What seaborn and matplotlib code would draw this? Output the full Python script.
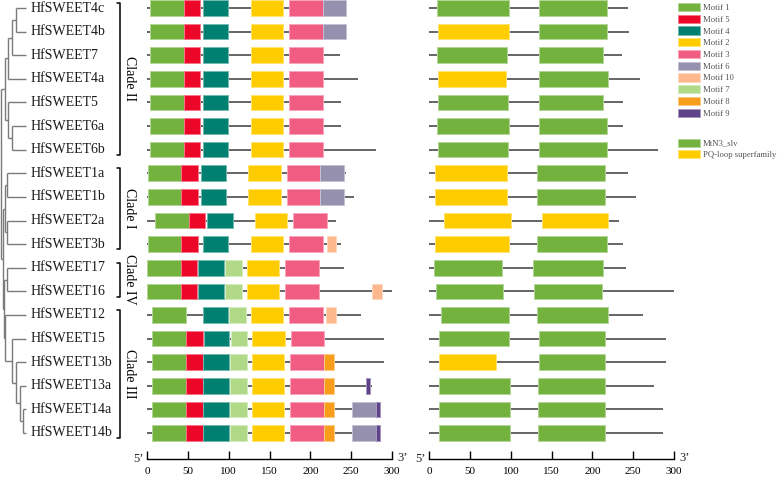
import numpy as np
import pandas as pd
import matplotlib
matplotlib.use("Agg")
import matplotlib.pyplot as plt
import seaborn as sns
from matplotlib.patches import Patch
from matplotlib.colors import to_rgb

nan = np.nan
genes = ["HfSWEET4c", "HfSWEET4b", "HfSWEET7", "HfSWEET4a", "HfSWEET5", "HfSWEET6a",
         "HfSWEET6b", "HfSWEET1a", "HfSWEET1b", "HfSWEET2a", "HfSWEET3b", "HfSWEET17",
         "HfSWEET16", "HfSWEET12", "HfSWEET15", "HfSWEET13b", "HfSWEET13a",
         "HfSWEET14a", "HfSWEET14b"]
protein_len = [244, 245, 236, 258, 237, 237, 280, 244, 254, 232, 237, 241, 300, 262,
               290, 290, 275, 287, 287]

# motif start positions (aa) per gene, nan = absent
motif1_start = [4, 4, 4, 4, 4, 4, 4, 1, 1, 10, 1, 0.5, 0.5, 6.5, 6.5, 6.5, 6.5, 6.5, 6.5]
motif5_start = [45, 45, 45, 45, 45, 45, 45, 42, 42, 51, 42, 41.5, 41.5, nan, 48, 48, 48, 48, 48]
motif4_start = [68, 68, 68, 68, 68, 68, 68, 66, 66, 74, 68, 63, 63, 68, 70, 69, 69, 69, 69]
motif2_start = [127, 127, 127, 127, 127, 127, 127, 124, 124, 132, 127, 122, 122, 127, 129, 128, 128, 128, 128]
motif3_start = [174, 174, 174, 174, 174, 174, 174, 171, 171, 179, 174, 169, 169, 174, 176, 175.5, 175.5, 175.5, 175.5]
motif6_start = [215, 215, nan, nan, nan, nan, nan, 212, 212, nan, nan, nan, nan, nan, nan, nan, nan, 251, 251]
motif10_start = [nan, nan, nan, nan, nan, nan, nan, nan, nan, nan, 220, nan, 276, 219, nan, nan, nan, nan, nan]
motif7_start = [nan, nan, nan, nan, nan, nan, nan, nan, nan, nan, nan, 96, 96, 101, 103, 102, 102, 102, 102]
motif8_start = [nan, nan, nan, nan, nan, nan, nan, nan, nan, nan, nan, nan, nan, nan, nan, 217, 217, 217, 217]
motif9_start = [nan, nan, nan, nan, nan, nan, nan, nan, nan, nan, nan, nan, nan, nan, nan, nan, 268.5, 280.5, 280.5]

motif_names = ["Motif 1", "Motif 5", "Motif 4", "Motif 2", "Motif 3", "Motif 6",
               "Motif 10", "Motif 7", "Motif 8", "Motif 9"]
motif_width = [41, 20, 31, 40, 41, 29, 12, 20, 12, 5]
motif_colors = ["#74B23F", "#EC0628", "#008070", "#FFCC00", "#F05C82", "#9490AE",
                "#FDB98D", "#B0DA88", "#F99E1C", "#5E4389"]
motif_starts = [motif1_start, motif5_start, motif4_start, motif2_start, motif3_start,
                motif6_start, motif10_start, motif7_start, motif8_start, motif9_start]

# conserved domains
dom1_start = [10, 11, 10, 11, 11, 9, 11, 7, 7, 18, 7, 6, 8, 14, 12, 12, 12, 12, 12]
dom1_end = [98, 98, 95, 94, 96, 98, 96, 95, 95, 100, 98, 89, 90, 98, 98, 82, 99, 99, 99]
dom1_type = ["M", "P", "M", "P", "M", "M", "M", "P", "P", "P", "P", "M", "M", "M", "M", "P", "M", "M", "M"]
dom2_start = [134, 134, 134, 135, 135, 134, 134, 132, 132, 138.5, 132, 127.5, 128.5, 132, 135, 135, 133, 133, 133]
dom2_end = [218, 218, 213, 219, 213, 218, 218, 215, 215, 219, 218, 212.5, 211.5, 219, 215, 215, 215, 215, 215]
dom2_type = ["M", "M", "M", "M", "M", "M", "M", "M", "M", "P", "M", "M", "M", "M", "M", "M", "M", "M", "M"]
domain_names = {"M": "MtN3_slv", "P": "PQ-loop superfamily"}
domain_colors = {"M": "#74B23F", "P": "#FFCC00"}

clades = [("Clade II", 0, 6), ("Clade I", 7, 10), ("Clade IV", 11, 12), ("Clade III", 13, 18)]

# tree: (child_a, child_b, node_x); leaves are gene indices, nodes named
tree_nodes = {
    "n1": (0, 1, 16), "n2": ("n1", 2, 12), "n3": ("n2", 3, 7.5),
    "n4": (5, 6, 12), "n5": (4, "n4", 7.5), "n6": ("n3", "n5", 4.5),
    "n7": (7, 8, 7), "n8": (9, 10, 7), "n9": ("n7", "n8", 5),
    "n10": (11, 12, 7),
    "n11": (17, 18, 23), "n12": (16, "n11", 19.5), "n13": (15, "n12", 16),
    "n14": (14, "n13", 12), "n15": (13, "n14", 5), "n16": ("n10", "n15", 4),
    "n17": ("n9", "n16", 3), "root": ("n6", "n17", 1),
}
leaf_x = 26

# ---------------------------------------------------------------------------
sns.set_theme(style="white")
plt.rcParams["font.family"] = ["Liberation Serif", "DejaVu Serif"]

W, H = 777, 478
fig = plt.figure(figsize=(W / 100, H / 100), dpi=100)

row_px = (433 - 8) / 18
ytop = -8 / row_px
ybot = 18 + (459 - 433) / row_px
ax_bottom = (H - 459) / H
ax_height = 459 / H

ax_tree = fig.add_axes([0, ax_bottom, 145 / W, ax_height])
ax_m = fig.add_axes([147 / W, ax_bottom, 245 / W, ax_height])
ax_d = fig.add_axes([429.3 / W, ax_bottom, 244.7 / W, ax_height])

rows = np.arange(len(genes))
bar_h = 0.66
line_col = "#3c3c3c"


def lighter(c, f=0.45):
    r, g, b = to_rgb(c)
    return (r + (1 - r) * f, g + (1 - g) * f, b + (1 - b) * f)


# motif panel
df_m = pd.DataFrame({"gene": genes, "row": rows, "length": protein_len})
ax_m.hlines(df_m["row"], 0, df_m["length"], color=line_col, lw=1.1, zorder=1)
for starts, w, col in zip(motif_starts, motif_width, motif_colors):
    s = np.array(starts, dtype=float)
    ok = ~np.isnan(s)
    ax_m.barh(rows[ok], w, left=s[ok], height=bar_h, color=col,
              edgecolor=lighter(col), linewidth=0.7, zorder=2)

# domain panel
ax_d.hlines(df_m["row"], 0, df_m["length"], color=line_col, lw=1.1, zorder=1)
for st, en, ty in ((dom1_start, dom1_end, dom1_type), (dom2_start, dom2_end, dom2_type)):
    st = np.array(st, float)
    en = np.array(en, float)
    cols = [domain_colors[t] for t in ty]
    ax_d.barh(rows, en - st, left=st, height=bar_h, color=cols,
              edgecolor=[lighter(c) for c in cols], linewidth=0.7, zorder=2)

for ax in (ax_m, ax_d):
    ax.set_xlim(0, 300)
    ax.set_ylim(ybot, ytop)
    ax.set_facecolor("none")
    sns.despine(ax=ax, left=True, top=True, right=True)
    ax.spines["bottom"].set_color("black")
    ax.spines["bottom"].set_linewidth(1.0)
    ax.set_xticks([0, 50, 100, 150, 200, 250, 300])
    ax.set_yticks([])
    ax.tick_params(axis="x", direction="in", length=6, width=1.0, color="black",
                   labelsize=8, pad=6, labelcolor="black", bottom=True)
    trans = ax.get_xaxis_transform()
    ax.text(-4, 0.0, "5’", transform=trans, ha="right", va="center", fontsize=9)
    ax.text(306, 0.002, "3’", transform=trans, ha="left", va="center", fontsize=9)

# tree panel
ax_tree.set_xlim(0, 145)
ax_tree.set_ylim(ybot, ytop)
ax_tree.axis("off")
tree_col = "#7a7a7a"
node_pos = {}


def pos(n):
    if isinstance(n, int):
        return leaf_x, float(n)
    if n in node_pos:
        return node_pos[n]
    a, b, x = tree_nodes[n]
    xa, ya = pos(a)
    xb, yb = pos(b)
    ax_tree.plot([x, x], [ya, yb], color=tree_col, lw=1.0, solid_capstyle="butt")
    ax_tree.plot([x, xa], [ya, ya], color=tree_col, lw=1.0, solid_capstyle="butt")
    ax_tree.plot([x, xb], [yb, yb], color=tree_col, lw=1.0, solid_capstyle="butt")
    node_pos[n] = (x, (ya + yb) / 2)
    return node_pos[n]


pos("root")

for r, g in zip(rows, genes):
    ax_tree.text(31, r, g, ha="left", va="center", fontsize=10, color="#1a1a1a")

for name, a, b in clades:
    y0, y1 = a - 0.22, b + 0.22
    ax_tree.plot([117, 120, 120, 117], [y0, y0, y1, y1], color="black", lw=1.1)
    ax_tree.text(129.5, (a + b) / 2, name, rotation=-90, ha="center", va="center",
                 fontsize=10, color="black")

# legends
mh = [Patch(facecolor=c, edgecolor=lighter(c), linewidth=0.7) for c in motif_colors]
leg1 = fig.legend(mh, motif_names, loc="upper left", bbox_to_anchor=(678 / W, 1 - 3 / H),
                  frameon=False, borderpad=0, borderaxespad=0, fontsize=6.2,
                  handlelength=2.6, handleheight=1.1, handletextpad=0.3,
                  labelspacing=0.31)
for t in leg1.get_texts():
    t.set_color("#555555")
dh = [Patch(facecolor=domain_colors[k], edgecolor=lighter(domain_colors[k]), linewidth=0.7)
      for k in ("M", "P")]
leg2 = fig.legend(dh, [domain_names["M"], domain_names["P"]], loc="upper left",
                  bbox_to_anchor=(678 / W, 1 - 138.5 / H), frameon=False, borderpad=0,
                  borderaxespad=0, fontsize=6.2, handlelength=2.6, handleheight=1.1,
                  handletextpad=0.3, labelspacing=0.31)
for t in leg2.get_texts():
    t.set_color("#555555")

fig.savefig("out.png", dpi=100)
